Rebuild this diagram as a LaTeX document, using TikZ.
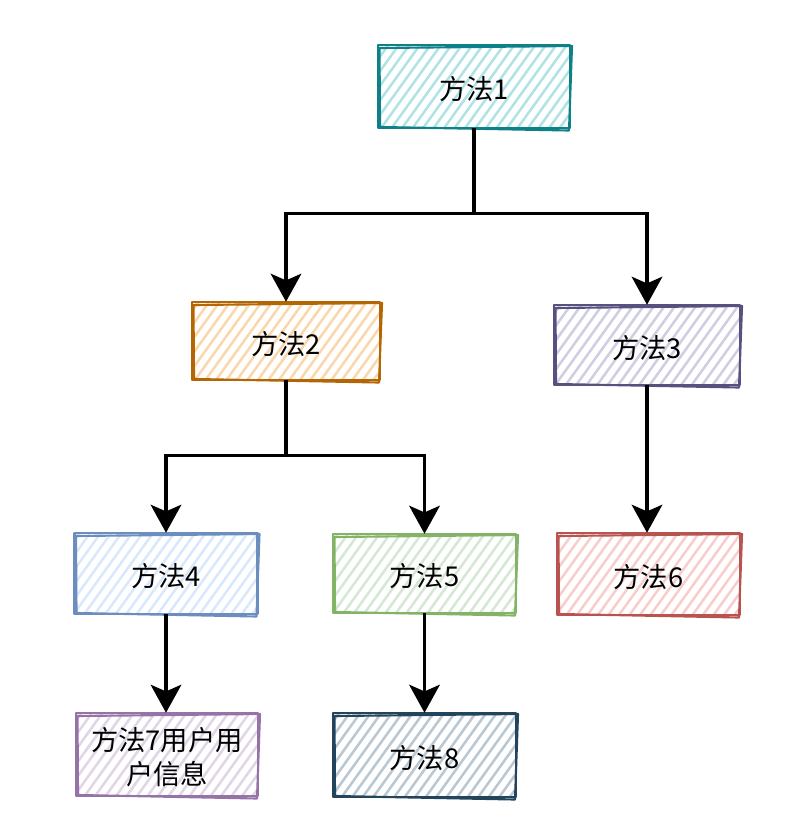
\documentclass[tikz,border=0pt]{standalone}
\usepackage{fontspec}
\newfontfamily\cjk{Noto Sans CJK SC}
\usetikzlibrary{arrows.meta}

\definecolor{fa}{HTML}{B0E3E6}\definecolor{sa}{HTML}{0E8088}
\definecolor{fb}{HTML}{FAD7AC}\definecolor{sb}{HTML}{B46504}
\definecolor{fc}{HTML}{D0CEE2}\definecolor{sc}{HTML}{56517E}
\definecolor{fd}{HTML}{DAE8FC}\definecolor{sd}{HTML}{6C8EBF}
\definecolor{fe}{HTML}{D5E8D4}\definecolor{se}{HTML}{82B366}
\definecolor{ff}{HTML}{F8CECC}\definecolor{sf}{HTML}{B85450}
\definecolor{fg}{HTML}{E1D5E7}\definecolor{sg}{HTML}{9673A6}
\definecolor{fh}{HTML}{BAC8D3}\definecolor{sh}{HTML}{23445D}

\tikzset{
  boxtext/.style={font=\cjk\fontsize{20.5}{25}\selectfont, inner sep=0pt, align=center},
  hatch/.style={line width=1.9pt, line cap=round},
  rim/.style={line width=1.6pt, line join=round},
  conn/.style={line width=2.3pt, -{Stealth[length=21pt,width=23pt,inset=5pt]}},
}

% sketchy box: name, centre x, centre y, width, height, fill, stroke, text
\newcommand\sketchbox[8]{%
  \begin{scope}
    \clip (#2-#4/2,#3-#5/2) rectangle (#2+#4/2,#3+#5/2);
    \foreach \k in {-19,...,19}
      \draw[hatch,#6] (#2+\k*10.5-#5*0.36,#3+#5/2) -- (#2+\k*10.5+#5*0.36,#3-#5/2);
  \end{scope}
  \draw[rim,#7] (#2-#4/2,#3-#5/2) rectangle (#2+#4/2,#3+#5/2);
  \draw[rim,#7] (#2-#4/2+1.5,#3-#5/2+3) -- (#2+#4/2+2,#3-#5/2+1)
    -- (#2+#4/2-1,#3+#5/2+2.5) -- (#2-#4/2+2,#3+#5/2-1) -- cycle;
  \node[minimum width=#4*0.75pt, minimum height=#5*0.75pt, inner sep=0pt] (#1) at (#2,#3) {};
  \node[boxtext] (#1t) at ([yshift=-2pt]#1.center) {#8};
}

\begin{document}
\begin{tikzpicture}[x=0.75pt,y=-0.75pt]
  \useasboundingbox (0,0) rectangle (790,823);

  \sketchbox{n1}{474}{86.5}{192}{83}{fa}{sa}{方法1}
  \sketchbox{n2}{286}{341}{188}{78}{fb}{sb}{方法2}
  \sketchbox{n3}{647}{345}{186}{80}{fc}{sc}{方法3}
  \sketchbox{n4}{166}{573.5}{183}{81}{fd}{sd}{方法4}
  \sketchbox{n5}{424.5}{573.5}{183}{79}{fe}{se}{方法5}
  \sketchbox{n6}{648.5}{574}{183}{82}{ff}{sf}{方法6}
  \sketchbox{n7}{167}{754.5}{182}{83}{fg}{sg}{方法7用户用\\户信息}
  \sketchbox{n8}{424.5}{755}{183}{84}{fh}{sh}{方法8}

  \draw[conn] (n1.south) -- ++(0,85) -| (n2.north);
  \draw[conn] (n1.south) -- ++(0,85) -| (n3.north);
  \draw[conn] (n2.south) -- ++(0,75) -| (n4.north);
  \draw[conn] (n2.south) -- ++(0,75) -| (n5.north);
  \draw[conn] (n3.south) -- (n3.south |- n6.north);
  \draw[conn] (n4.south) -- (n4.south |- n7.north);
  \draw[conn] (n5.south) -- (n5.south |- n8.north);
\end{tikzpicture}
\end{document}
